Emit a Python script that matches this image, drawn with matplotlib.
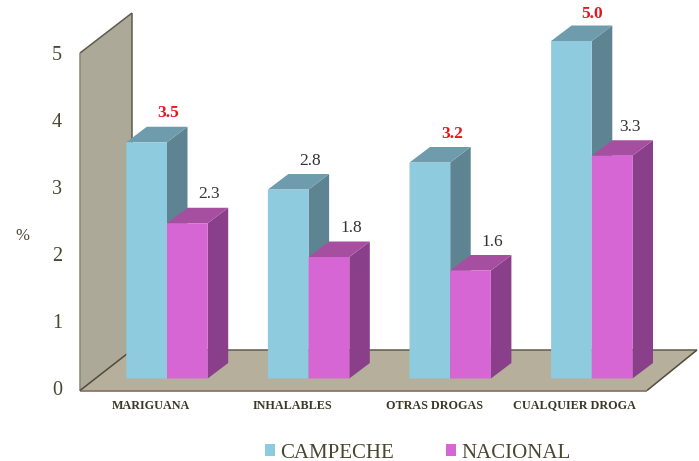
import matplotlib
matplotlib.use("Agg")
import matplotlib.pyplot as plt
from matplotlib.patches import Polygon, Patch

categories = ["MARIGUANA", "INHALABLES", "OTRAS DROGAS", "CUALQUIER DROGA"]
campeche = [3.5, 2.8, 3.2, 5.0]
nacional = [2.3, 1.8, 1.6, 3.3]
series_names = ["CAMPECHE", "NACIONAL"]
y_ticks = [0, 1, 2, 3, 4, 5]

W, H = 699, 461
X0, SX = 167.0, 141.6   # pixel of category 0 centre, pixels per category
Y0, SY = 378.5, 67.5    # pixel of value 0, pixels per unit
BW = 40.7 / SX
DX, DY = 20.5 / SX, 15.5 / SY

plt.rcParams["font.family"] = ["Liberation Serif", "DejaVu Serif"]
fig = plt.figure(figsize=(W / 100, H / 100), dpi=100, facecolor="white")
ax = fig.add_axes([0, 0, 1, 1])
ax.set_xlim(-X0 / SX, (W - X0) / SX)
ax.set_ylim(-(H - Y0) / SY, Y0 / SY)
ax.axis("off")


def px(x, y):
    return ((x - X0) / SX, (Y0 - y) / SY)


# wall and floor
wall = [px(80, 390.5), px(80, 53), px(132, 13), px(132, 350)]
floor = [px(80, 390.5), px(132, 350), px(697, 350), px(647, 390.5)]
ax.add_patch(Polygon(wall, closed=True, fc="#ACA998", ec="none", zorder=1))
ax.add_patch(Polygon(floor, closed=True, fc="#B5AF9B", ec="none", zorder=1))
edge = "#5F5B4C"
for a, b, c in [((80, 53), (132, 13), edge), ((132, 13), (132, 350), edge),
                ((80, 53), (80, 390.5), "#8A8778"),
                ((80, 390.5), (132, 350), "#4F4A3A"), ((132, 350), (697, 350), edge),
                ((697, 350), (647, 390.5), "#4F4A3A"), ((80, 390.5), (647, 390.5), "#7C5F55")]:
    p, q = px(*a), px(*b)
    ax.plot([p[0], q[0]], [p[1], q[1]], color=c, lw=1.1, zorder=1.5, solid_capstyle="butt")

styles = [("#8FCBDF", "#6F9CAD", "#5E8491"), ("#D666D3", "#A64FA0", "#893F8A")]


def bar3d(x_left, v, st, z):
    front, top, side = st
    ax.bar(x_left, v, width=BW, align="edge", color=front, lw=0, zorder=z + 0.2, snap=False)
    xr = x_left + BW
    ax.add_patch(Polygon([(xr, 0), (xr + DX, DY), (xr + DX, v + DY), (xr, v)],
                         closed=True, fc=side, ec="none", zorder=z))
    ax.add_patch(Polygon([(x_left, v), (x_left + DX, v + DY), (xr + DX, v + DY), (xr, v)],
                         closed=True, fc=top, ec="none", zorder=z))


label_shift = {(0, 0): (0.5, 13.5), (3, 0): (0.5, 12), (3, 1): (-3, 13)}
cat_pixel = [151, 292, 434.5, 574]
for i, (c, n) in enumerate(zip(campeche, nacional)):
    bar3d(i - BW, c, styles[0], 2 + i)
    bar3d(i, n, styles[1], 2.5 + i)
    for k, (x, v) in enumerate(((i - BW, c), (i, n))):
        red = v in (3.5, 3.2, 5.0)
        ax.annotate(f"{v:.1f}", (x + BW / 2 + DX, v + DY),
                    xytext=label_shift.get((i, k), (1.5, 13.5)),
                    textcoords="offset pixels", ha="center", va="center",
                    fontsize=12.5, color="#E8141E" if red else "#333333",
                    fontweight="bold" if red else "normal", zorder=10)
    ax.text(px(cat_pixel[i], 0)[0], px(0, 408.5)[1], categories[i],
            ha="center", va="baseline", fontsize=8.7, color="#3A3828", fontweight="bold")

for t in y_ticks:
    ax.text(px(57, 0)[0], px(0, 390 - t * 67)[1], str(t), ha="center", va="center",
            fontsize=14.5, color="#4A4632")
ax.text(*px(22, 236), "%", ha="center", va="center", fontsize=12, color="#4A4632")

handles = [Patch(fc=styles[0][0], ec="none", label=series_names[0]),
           Patch(fc=styles[1][0], ec="none", label=series_names[1])]
ax.legend(handles=handles, ncol=2, frameon=False, loc="center", fontsize=15,
          bbox_to_anchor=(417.5 / W, 1 - 453 / H), bbox_transform=fig.transFigure,
          handlelength=0.48, handleheight=0.48, handletextpad=0.25, columnspacing=2.5,
          labelcolor="#4A4632", borderpad=0, borderaxespad=0)

fig.savefig("out.png", dpi=100, facecolor="white")
